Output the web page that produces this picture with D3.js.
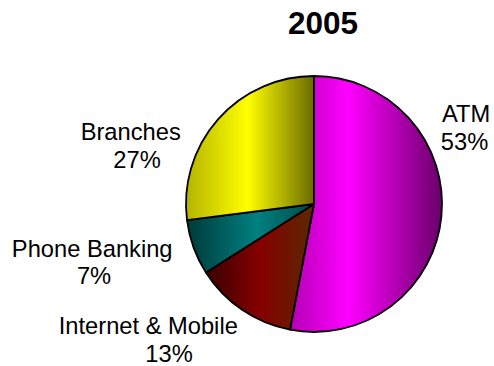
<!DOCTYPE html>
<html>
<head>
<meta charset="utf-8">
<script src="https://cdn.jsdelivr.net/npm/d3@7"></script>
<style>
  html, body { margin: 0; padding: 0; background: #fff; }
  svg { display: block; }
  text { font-family: "Liberation Sans", Arial, Helvetica, sans-serif; fill: #000; }
</style>
</head>
<body>
<svg id="chart" width="494" height="366"></svg>
<script>
// Channel shares for 2005 (percent)
const title = "2005";
const categories = ["ATM", "Internet & Mobile", "Phone Banking", "Branches"];
const shares = [53, 13, 7, 27];

// Horizontal shading for each wedge: dark edge, bright band, dark edge
const shading = {
  "ATM":               [["0", "#b400b4"], ["0.38", "#ff00ff"], ["1", "#6a006a"]],
  "Internet & Mobile": [["0", "#380000"], ["0.5", "#850000"], ["1", "#5a2800"]],
  "Phone Banking":     [["0", "#003a3a"], ["0.55", "#008080"], ["1", "#004a44"]],
  "Branches":          [["0", "#b4b400"], ["0.48", "#ffff00"], ["1", "#6a6a00"]]
};

// Text placement for each wedge label (name line, then percent line)
const labelLayout = {
  "ATM":               { nx: 466,   ny: 122.3, px: 464.5, py: 149.5 },
  "Internet & Mobile": { nx: 148.3, ny: 334.3, px: 169,   py: 361.7 },
  "Phone Banking":     { nx: 92.2,  ny: 256.7, px: 94,    py: 283.5 },
  "Branches":          { nx: 130.7, ny: 140,   px: 137,   py: 168.3 }
};

const svg = d3.select("#chart");
const cx = 314, cy = 204, radius = 128;

const data = categories.map((c, i) => ({ name: c, value: shares[i] }));

const pie = d3.pie().sort(null).value(d => d.value).startAngle(0).endAngle(2 * Math.PI);
const arc = d3.arc().innerRadius(0).outerRadius(radius);

const defs = svg.append("defs");
data.forEach((d, i) => {
  const g = defs.append("linearGradient")
    .attr("id", "shade" + i)
    .attr("x1", "0").attr("y1", "0").attr("x2", "1").attr("y2", "0");
  shading[d.name].forEach(([o, c]) => g.append("stop").attr("offset", o).attr("stop-color", c));
});

svg.append("text")
  .attr("x", 323).attr("y", 34.3)
  .attr("text-anchor", "middle")
  .style("font-size", "31.5px").style("font-weight", "bold")
  .text(title);

const g = svg.append("g").attr("transform", `translate(${cx},${cy})`);
g.selectAll("path")
  .data(pie(data))
  .join("path")
  .attr("d", arc)
  .attr("fill", (d, i) => `url(#shade${i})`)
  .attr("stroke", "#000")
  .attr("stroke-width", 1.8)
  .attr("stroke-linejoin", "round");

const labels = svg.append("g").style("font-size", "23.7px").attr("text-anchor", "middle");
data.forEach(d => {
  const p = labelLayout[d.name];
  labels.append("text").attr("x", p.nx).attr("y", p.ny).text(d.name);
  labels.append("text").attr("x", p.px).attr("y", p.py).text(d.value + "%");
});
</script>
</body>
</html>
